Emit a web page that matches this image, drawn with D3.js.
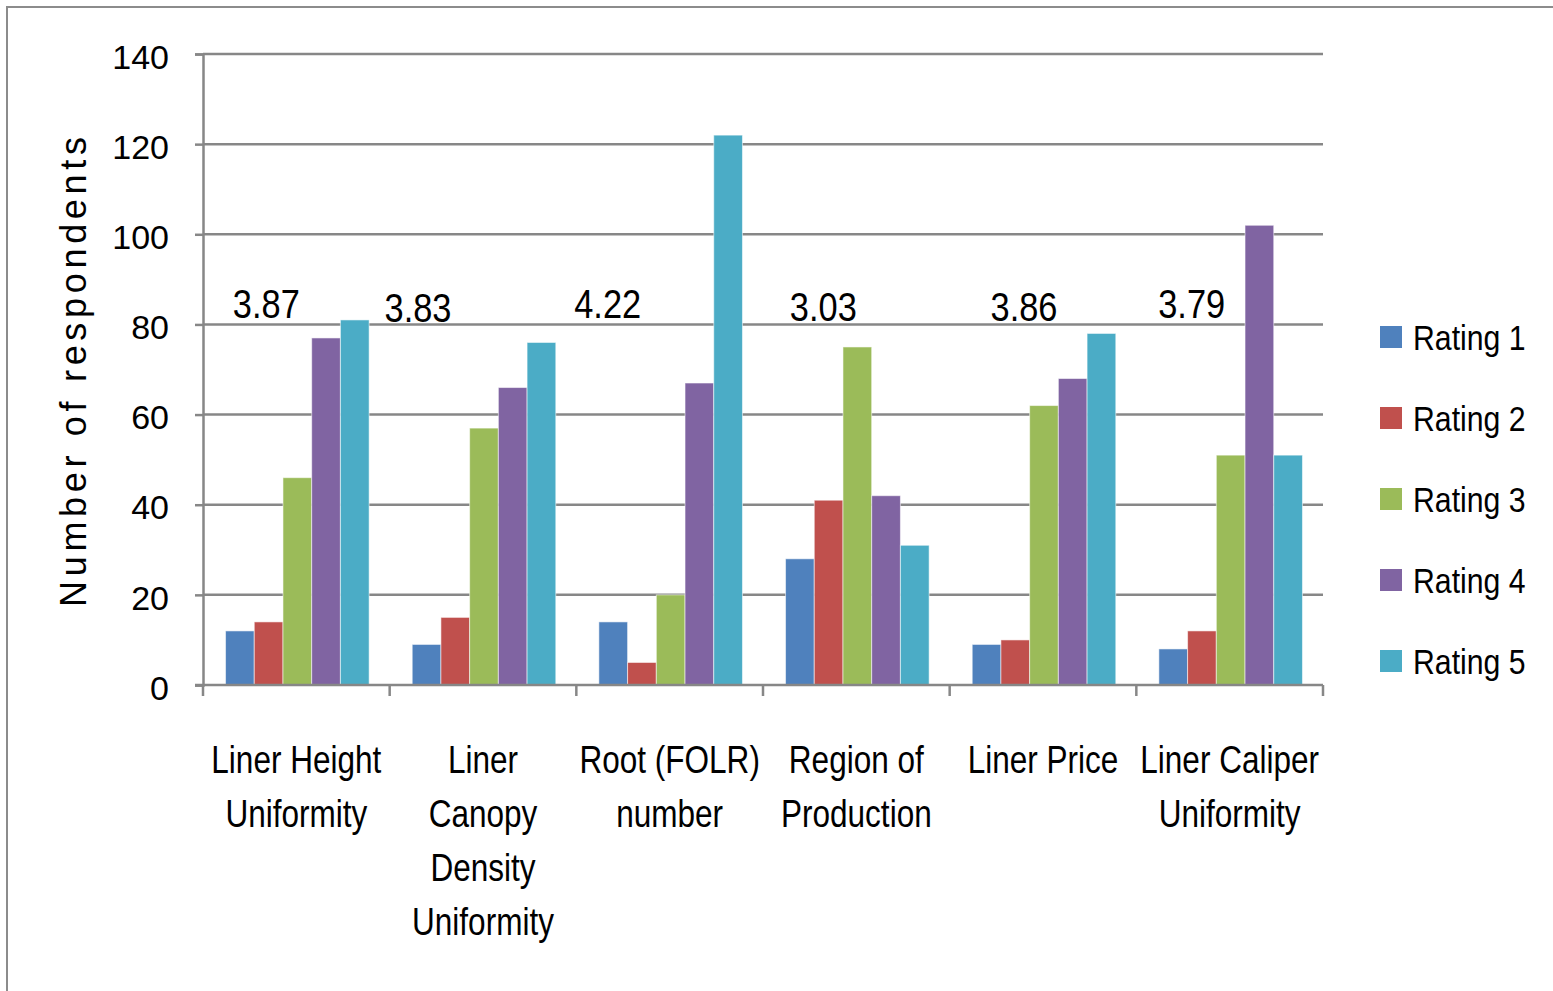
<!DOCTYPE html>
<html>
<head>
<meta charset="utf-8">
<script src="https://cdn.jsdelivr.net/npm/d3@7"></script>
<style>
  html, body { margin: 0; padding: 0; background: #fff; }
  svg { display: block; }
</style>
</head>
<body>
<svg id="chart" width="1553" height="991"></svg>
<script>
// Survey counts by factor and rating, with mean rating per factor
const categories = [
  "Liner Height Uniformity",
  "Liner Canopy Density Uniformity",
  "Root (FOLR) number",
  "Region of Production",
  "Liner Price",
  "Liner Caliper Uniformity"
];
const categoryLines = [
  ["Liner Height", "Uniformity"],
  ["Liner", "Canopy", "Density", "Uniformity"],
  ["Root (FOLR)", "number"],
  ["Region of", "Production"],
  ["Liner Price"],
  ["Liner Caliper", "Uniformity"]
];
const ratings = ["Rating 1", "Rating 2", "Rating 3", "Rating 4", "Rating 5"];
const rating1 = [12, 9, 14, 28, 9, 8];
const rating2 = [14, 15, 5, 41, 10, 12];
const rating3 = [46, 57, 20, 75, 62, 51];
const rating4 = [77, 66, 67, 42, 68, 102];
const rating5 = [81, 76, 122, 31, 78, 51];
const meanRatings = ["3.87", "3.83", "4.22", "3.03", "3.86", "3.79"];
const yTicks = [0, 20, 40, 60, 80, 100, 120, 140];

const seriesValues = [rating1, rating2, rating3, rating4, rating5];
const colors = ["#4F81BD", "#C0504D", "#9BBB59", "#8064A2", "#4BACC6"];

// layout
const plot = { left: 203, right: 1323, top: 54, bottom: 685 };
const meanNudge = [-30, -65, -62, -33, -19, -38]; // horizontal shift of each mean label from its group centre
const meanLift = [-367, -363, -367, -364, -364, -367]; // baseline relative to the x axis
const sans = "'Liberation Sans', Arial, sans-serif";
const gridColor = "#878787";

const svg = d3.select("#chart");

// text drawn horizontally condensed, anchored at (x, y)
function condensed(sel, x, y, sx) {
  sel.attr("x", 0).attr("y", 0)
    .attr("transform", (d, i) => `translate(${typeof x === "function" ? x(d, i) : x},${typeof y === "function" ? y(d, i) : y}) scale(${sx},1)`);
  return sel;
}

// outer frame
svg.append("rect")
  .attr("x", 7).attr("y", 7)
  .attr("width", 1600).attr("height", 1040)
  .attr("fill", "none").attr("stroke", "#8c8c8c").attr("stroke-width", 2);

const x0 = d3.scaleBand().domain(categories).range([plot.left, plot.right]).paddingInner(0).paddingOuter(0);
const x1 = d3.scaleBand().domain(ratings).range([0, x0.bandwidth()]).paddingInner(0).paddingOuter(0.75);
const y = d3.scaleLinear().domain([0, 140]).range([plot.bottom, plot.top]);

// horizontal gridlines
svg.append("g").selectAll("line").data(yTicks.filter(t => t > 0)).join("line")
  .attr("x1", plot.left).attr("x2", plot.right)
  .attr("y1", d => y(d)).attr("y2", d => y(d))
  .attr("stroke", gridColor).attr("stroke-width", 2.5);

// y axis
const yAxis = svg.append("g")
  .attr("transform", `translate(${plot.left},0)`)
  .call(d3.axisLeft(y).tickValues(yTicks).tickSize(8).tickPadding(26));
yAxis.select(".domain").attr("stroke", gridColor).attr("stroke-width", 2.5);
yAxis.selectAll(".tick line").attr("stroke", gridColor).attr("stroke-width", 2.5);
yAxis.selectAll(".tick text")
  .attr("font-family", sans)
  .attr("font-size", 34).attr("fill", "#000").attr("dy", "0.42em");

// bars
const groups = svg.append("g").selectAll("g").data(categories).join("g")
  .attr("transform", d => `translate(${x0(d)},0)`);
groups.selectAll("rect")
  .data((c, i) => ratings.map((r, k) => ({ rating: r, value: seriesValues[k][i], k })))
  .join("rect")
  .attr("x", d => x1(d.rating) + 1)
  .attr("width", x1.bandwidth())
  .attr("y", d => y(d.value))
  .attr("height", d => y(0) - y(d.value))
  .attr("fill", d => colors[d.k])
  .attr("stroke", "rgba(255,255,255,0.55)").attr("stroke-width", 1);

// x axis with ticks on category boundaries
const xAxisG = svg.append("g");
xAxisG.append("line")
  .attr("x1", plot.left - 8).attr("x2", plot.right)
  .attr("y1", y(0)).attr("y2", y(0))
  .attr("stroke", gridColor).attr("stroke-width", 2.5);
const boundaries = categories.map(c => x0(c)).concat([x0(categories[categories.length - 1]) + x0.bandwidth()]);
xAxisG.selectAll("line.tk").data(boundaries).join("line")
  .attr("class", "tk")
  .attr("x1", d => d).attr("x2", d => d)
  .attr("y1", y(0)).attr("y2", y(0) + 11)
  .attr("stroke", gridColor).attr("stroke-width", 2.5);

// category labels
const catLabels = svg.append("g").selectAll("text").data(categories).join("text")
  .attr("text-anchor", "middle")
  .attr("font-family", sans)
  .attr("font-size", 38)
  .attr("fill", "#000");
condensed(catLabels, d => x0(d) + x0.bandwidth() / 2, 773, 0.83);
catLabels.each(function (d, i) {
  d3.select(this).selectAll("tspan").data(categoryLines[i]).join("tspan")
    .attr("x", 0)
    .attr("dy", (t, j) => j === 0 ? 0 : 54)
    .text(t => t);
});

// mean rating labels
const means = svg.append("g").selectAll("text").data(categories).join("text")
  .attr("text-anchor", "middle")
  .attr("font-family", sans)
  .attr("font-size", 40)
  .attr("fill", "#000")
  .text((d, i) => meanRatings[i]);
condensed(means, (d, i) => x0(d) + x0.bandwidth() / 2 + meanNudge[i], (d, i) => y(0) + meanLift[i], 0.86);

// y axis title
svg.append("text")
  .attr("transform", "translate(86,372) rotate(-90)")
  .attr("text-anchor", "middle")
  .attr("font-family", sans)
  .attr("font-size", 36)
  .attr("fill", "#000")
  .attr("textLength", 470).attr("lengthAdjust", "spacing")
  .text("Number of respondents");

// legend
const legend = svg.append("g").selectAll("g").data(ratings).join("g")
  .attr("transform", (d, i) => `translate(1380,${337 + i * 81})`);
legend.append("rect")
  .attr("x", 0).attr("y", -11).attr("width", 22).attr("height", 22)
  .attr("fill", (d, i) => colors[i]);
const legendText = legend.append("text")
  .attr("dy", "0.36em")
  .attr("font-family", sans)
  .attr("font-size", 36)
  .attr("fill", "#000")
  .text(d => d);
condensed(legendText, 33, 0, 0.84);
</script>
</body>
</html>
